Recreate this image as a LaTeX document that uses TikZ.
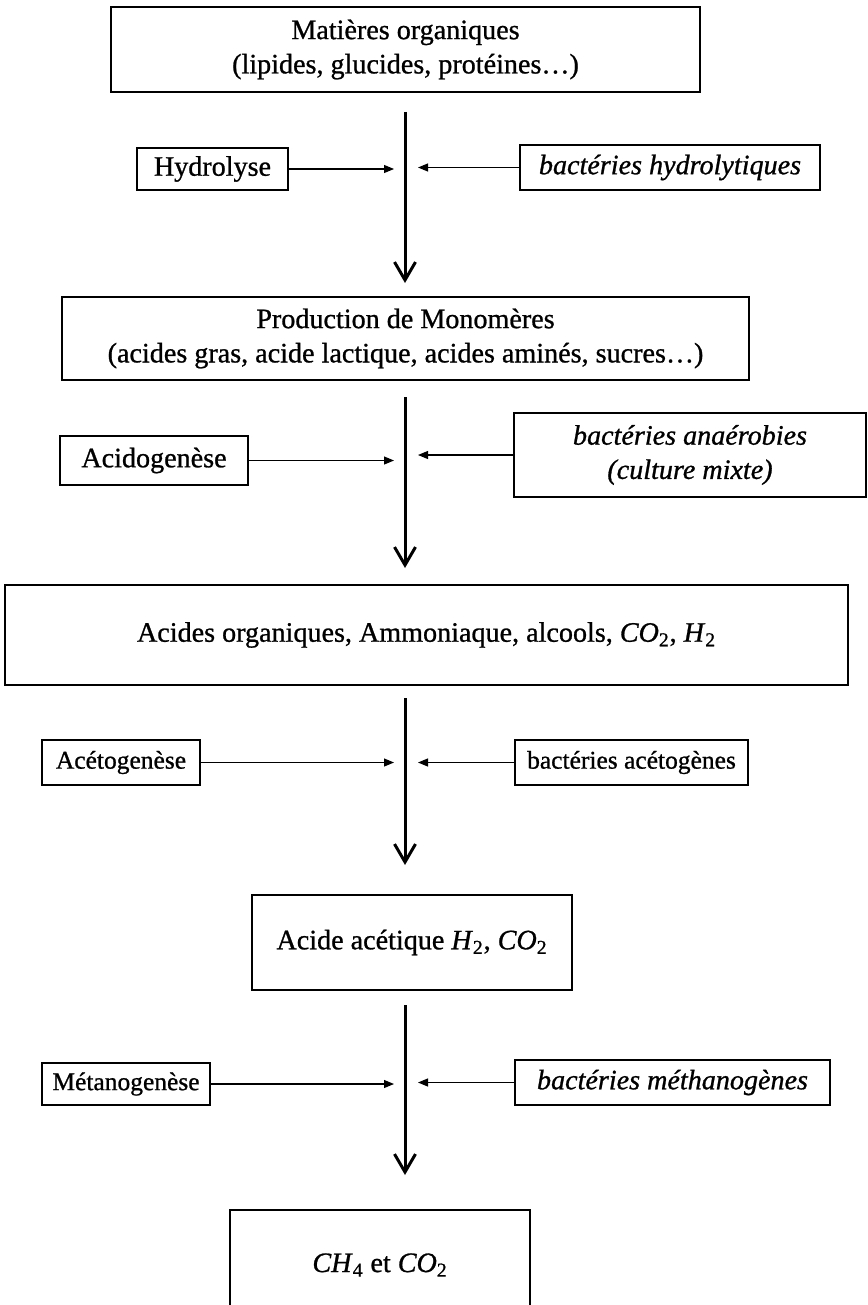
\documentclass[tikz,border=0pt]{standalone}
\usepackage{fontspec}
\setmainfont{Liberation Serif}[FakeBold=0.9]
\usepackage{tikz}
\usetikzlibrary{arrows.meta, positioning}

\newcommand{\chem}[2]{\textit{#1}\textsubscript{#2}}

\begin{document}
\begin{tikzpicture}[
    stage/.style = {draw, line width=0.8pt, align=center, inner sep=0pt},
    actor/.style = {draw, line width=0.8pt, align=center, inner sep=0pt},
    small/.style = {font=\fontsize{14.5}{17}\selectfont},
    flow/.style  = {line width=1.7pt, -{Straight Barb[length=3.6mm, width=4.2mm, line width=1.7pt]}},
    side/.style  = {line width=0.6pt, -{Triangle[length=2mm, width=1.6mm]}},
    font=\fontsize{16}{19.5}\selectfont
  ]
  \useasboundingbox (0,0) rectangle (17.36,-26.10);

  % main chain of products, boxes at explicit coordinates (in cm)
  \node[stage, minimum width=11.78cm, minimum height=1.70cm] (matiere)  at (8.11, -0.99)
    {Matières organiques\\(lipides, glucides, protéines…)};
  \node[stage, minimum width=13.74cm, minimum height=1.66cm] (monomere) at (8.11, -6.77)
    {Production de Monomères\\(acides gras, acide lactique, acides aminés, sucres…)};
  \node[stage, minimum width=16.86cm, minimum height=2.00cm] (acides)   at (8.53, -12.70)
    {Acides organiques, Ammoniaque, alcools, \chem{CO}{2}, \chem{H}{2}};
  \node[stage, minimum width=6.40cm,  minimum height=1.90cm] (acetique) at (8.24, -18.85)
    {Acide acétique \chem{H}{2}, \chem{CO}{2}};
  \node[stage, minimum width=6.00cm,  minimum height=2.20cm] (gaz)      at (7.60, -25.30)
    {\chem{CH}{4} et \chem{CO}{2}};

  % steps on the left, bacteria on the right
  \node[actor, minimum width=3.02cm, minimum height=0.84cm] (hydro)  at (4.25, -3.38)  {Hydrolyse};
  \node[actor, minimum width=6.00cm, minimum height=0.90cm] (bhydro) at (13.40, -3.35) {\itshape bactéries hydrolytiques};
  \node[actor, minimum width=3.76cm, minimum height=0.98cm] (acido)  at (3.08, -9.21)  {Acidogenèse};
  \node[actor, minimum width=7.04cm, minimum height=1.68cm] (banaer) at (13.80, -9.10) {\itshape bactéries anaérobies\\\itshape (culture mixte)};
  \node[actor, small, minimum width=3.16cm, minimum height=0.90cm] (aceto)  at (2.42, -15.25) {Acétogenèse};
  \node[actor, small, minimum width=4.66cm, minimum height=0.90cm] (bacet)  at (12.63, -15.25) {bactéries acétogènes};
  \node[actor, small, minimum width=3.36cm, minimum height=0.84cm] (metha)  at (2.52, -21.68) {Métanogenèse};
  \node[actor, minimum width=6.30cm, minimum height=0.90cm] (bmetha) at (13.45, -21.65) {\itshape bactéries méthanogènes};

  % ends of the thick arrows and of the thin ones
  \coordinate (f1a) at (8.10, -2.24);  \coordinate (f1b) at (8.10, -5.66);
  \coordinate (f2a) at (8.10, -7.94);  \coordinate (f2b) at (8.10, -11.36);
  \coordinate (f3a) at (8.10, -13.96); \coordinate (f3b) at (8.10, -17.30);
  \coordinate (f4a) at (8.10, -20.10); \coordinate (f4b) at (8.10, -23.50);

  \coordinate (l1) at (7.88, -3.38);  \coordinate (r1) at (8.36, -3.35);
  \coordinate (l2) at (7.88, -9.21);  \coordinate (r2) at (8.36, -9.10);
  \coordinate (l3) at (7.88, -15.25); \coordinate (r3) at (8.36, -15.25);
  \coordinate (l4) at (7.88, -21.68); \coordinate (r4) at (8.36, -21.65);

  \draw[flow] (f1a) -- (f1b);
  \draw[flow] (f2a) -- (f2b);
  \draw[flow] (f3a) -- (f3b);
  \draw[flow] (f4a) -- (f4b);

  \draw[side] (hydro)  -- (l1);
  \draw[side] (bhydro) -- (r1);
  \draw[side] (acido)  -- (l2);
  \draw[side] (banaer) -- (r2);
  \draw[side] (aceto)  -- (l3);
  \draw[side] (bacet)  -- (r3);
  \draw[side] (metha)  -- (l4);
  \draw[side] (bmetha) -- (r4);
\end{tikzpicture}
\end{document}
